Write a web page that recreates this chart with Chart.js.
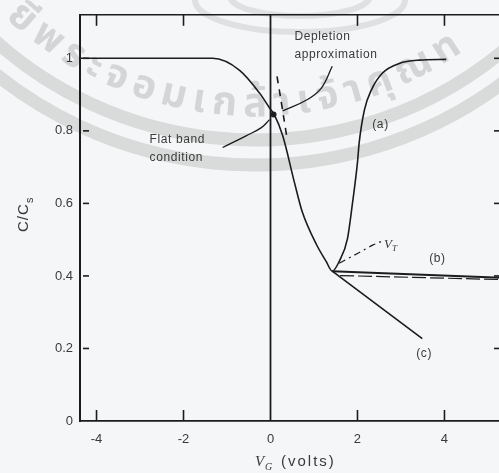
<!DOCTYPE html>
<html lang="en">
<head>
<meta charset="UTF-8">
<title>MOS C-V curve</title>
<script src="https://cdn.jsdelivr.net/npm/chart.js"></script>
<style>
  html, body { margin: 0; padding: 0; overflow: hidden; background: #f5f6f7; }
  .chart-box { position: relative; width: 505px; height: 473px; }
</style>
</head>
<body>
<div class="chart-box"><canvas id="cvChart"></canvas></div>
<script>
// gate voltage V_G (volts) and normalised capacitance C/Cs
const curveA_V = [-4.38, -3.0, -2.0, -1.33, -0.71, -0.25, -0.02, 0.09, 0.28, 0.55, 0.73, 1.06, 1.28, 1.42, 1.58, 1.77, 1.88, 2.0, 2.04, 2.16, 2.32, 2.57, 2.96, 3.42, 4.04];
const curveA_C = [1.0, 1.0, 1.0, 1.0, 0.967, 0.904, 0.863, 0.844, 0.787, 0.658, 0.577, 0.486, 0.44, 0.413, 0.44, 0.503, 0.596, 0.713, 0.768, 0.858, 0.913, 0.959, 0.986, 0.995, 0.997];

const curveB_V = [1.42, 5.30];
const curveB_C = [0.413, 0.395];
const curveB2_V = [1.60, 5.30];
const curveB2_C = [0.401, 0.390];

const curveC_V = [1.42, 3.49];
const curveC_C = [0.413, 0.227];

const depletion_V = [0.15, 0.22, 0.30, 0.38];
const depletion_C = [0.95, 0.90, 0.84, 0.78];

const vt_V = [1.58, 2.0, 2.35, 2.55];
const vt_C = [0.435, 0.462, 0.485, 0.495];

const flatBand_V = [0.07];
const flatBand_C = [0.845];

const zeroLine_V = [0, 0];
const zeroLine_C = [0, 1.12];

// leader lines for the two notes
const leaderFB_V = [-1.10, -0.55, -0.21, -0.02];
const leaderFB_C = [0.754, 0.787, 0.809, 0.831];
const leaderDep_V = [0.28, 0.83, 1.17, 1.42];
const leaderDep_C = [0.855, 0.885, 0.918, 0.978];

const xTicks = [-4, -2, 0, 2, 4];
const yTicks = [0, 0.2, 0.4, 0.6, 0.8, 1.0];

const notes = [
  { text: 'Depletion', v: 0.55, c: 1.06 },
  { text: 'approximation', v: 0.55, c: 1.01 },
  { text: 'Flat band', v: -2.78, c: 0.776 },
  { text: 'condition', v: -2.78, c: 0.727 },
  { text: '(a)', v: 2.34, c: 0.817 },
  { text: '(b)', v: 3.65, c: 0.448 },
  { text: '(c)', v: 3.35, c: 0.186 }
];

const ink = '#1c1c1c';
const textInk = '#3a3a3a';

function pts(vs, cs) {
  return vs.map((v, i) => ({ x: v, y: cs[i] }));
}

function line(ctx, x1, y1, x2, y2) {
  ctx.beginPath();
  ctx.moveTo(x1, y1);
  ctx.lineTo(x2, y2);
  ctx.stroke();
}

// faint seal lettering behind the plot
function drawWatermark(ctx) {
  ctx.save();
  const cx = 255, cy = -250;
  ctx.strokeStyle = 'rgba(120,120,120,0.22)';
  ctx.lineWidth = 13;
  [390, 415].forEach(r => {
    ctx.beginPath();
    ctx.arc(cx, cy, r, 0.1, Math.PI - 0.1);
    ctx.stroke();
  });
  ctx.strokeStyle = 'rgba(120,120,120,0.17)';
  ctx.lineWidth = 6;
  ctx.beginPath();
  ctx.ellipse(300, 0, 105, 32, 0, 0, Math.PI);
  ctx.stroke();
  ctx.beginPath();
  ctx.ellipse(300, -4, 70, 20, 0, 0, Math.PI);
  ctx.stroke();

  const clusters = ['ยี', 'พ', 'ร', 'ะ', 'จ', 'อ', 'ม', 'เ', 'ก', 'ล้', 'า', 'เ', 'จ้', 'า', 'คุ', 'ณ', 'ท'];
  ctx.font = 'bold 40px "Noto Sans Thai", "Noto Sans", "DejaVu Sans", sans-serif';
  ctx.fillStyle = 'rgba(120,120,120,0.26)';
  ctx.textAlign = 'center';
  ctx.textBaseline = 'alphabetic';
  const r = 366;
  let ang = 2.33;
  clusters.forEach(ch => {
    const w = ctx.measureText(ch).width + 7;
    const mid = ang - w / (2 * r);
    ctx.save();
    ctx.translate(cx + r * Math.cos(mid), cy + r * Math.sin(mid));
    ctx.rotate(mid - Math.PI / 2);
    ctx.fillText(ch, 0, 0);
    ctx.restore();
    ang -= w / r;
  });
  ctx.restore();
}

const decorations = {
  id: 'decorations',
  beforeDraw(chart) {
    const ctx = chart.ctx;
    ctx.save();
    ctx.fillStyle = '#f5f6f7';
    ctx.fillRect(0, 0, chart.width, chart.height);
    ctx.restore();
    drawWatermark(ctx);
  },
  afterDatasetsDraw(chart) {
    const ctx = chart.ctx;
    const { left, right, top, bottom } = chart.chartArea;
    const x = chart.scales.x, y = chart.scales.y;
    ctx.save();
    ctx.strokeStyle = ink;
    ctx.lineWidth = 1.6;
    // top and right frame
    line(ctx, left, top, right, top);
    line(ctx, right, top, right, bottom);
    // inward tick marks
    yTicks.forEach(v => {
      if (v === 0) return;
      const py = y.getPixelForValue(v);
      line(ctx, left + 3, py, left + 9, py);
      line(ctx, right - 7, py, right, py);
    });
    xTicks.forEach(v => {
      if (v === 0) return;
      const px = x.getPixelForValue(v);
      line(ctx, px, bottom, px, bottom - 11);
      line(ctx, px, top, px, top + 11);
    });

    // notes
    ctx.fillStyle = textInk;
    ctx.font = '12px "Liberation Sans", Arial, sans-serif';
    ctx.letterSpacing = '0.6px';
    ctx.textBaseline = 'middle';
    ctx.textAlign = 'left';
    notes.forEach(n => {
      ctx.fillText(n.text, x.getPixelForValue(n.v), y.getPixelForValue(n.c));
    });

    // V_T label
    const vx = x.getPixelForValue(2.61), vy = y.getPixelForValue(0.486);
    ctx.font = 'italic 13px "Liberation Serif", serif';
    ctx.fillText('V', vx, vy);
    ctx.font = 'italic 9px "Liberation Serif", serif';
    ctx.fillText('T', vx + 8, vy + 4);

    // x axis title
    ctx.letterSpacing = '0px';
    ctx.font = 'italic 15px "Liberation Serif", serif';
    ctx.fillText('V', 255, 462);
    ctx.font = 'italic 10px "Liberation Serif", serif';
    ctx.fillText('G', 265, 467);
    ctx.letterSpacing = '2px';
    ctx.font = '15px "Liberation Sans", Arial, sans-serif';
    ctx.fillText('(volts)', 281, 462);

    // y axis title, rotated
    ctx.save();
    ctx.translate(24, 215);
    ctx.rotate(-Math.PI / 2);
    ctx.letterSpacing = '1px';
    ctx.textAlign = 'left';
    ctx.font = '15px "Liberation Sans", Arial, sans-serif';
    ctx.fillText('C/C', -17, 0);
    ctx.font = '11px "Liberation Sans", Arial, sans-serif';
    ctx.fillText('s', 12, 6);
    ctx.restore();
    ctx.restore();
  }
};

const solid = (vs, cs, extra) => Object.assign({
  data: pts(vs, cs),
  borderColor: ink,
  borderWidth: 1.6,
  pointRadius: 0,
  fill: false
}, extra || {});

new Chart(document.getElementById('cvChart').getContext('2d'), {
  type: 'line',
  data: {
    datasets: [
      solid(zeroLine_V, zeroLine_C, { borderWidth: 1.8 }),
      solid(curveA_V, curveA_C, { cubicInterpolationMode: 'monotone' }),
      solid(curveB_V, curveB_C, { borderWidth: 2 }),
      solid(curveB2_V, curveB2_C, { borderDash: [14, 4], borderWidth: 1.2 }),
      solid(curveC_V, curveC_C),
      solid(depletion_V, depletion_C, { borderDash: [7, 6], tension: 0.3 }),
      solid(vt_V, vt_C, { borderDash: [7, 4, 2, 4], borderWidth: 1.2, tension: 0.3 }),
      solid(leaderFB_V, leaderFB_C, { tension: 0.4, borderWidth: 1.3 }),
      solid(leaderDep_V, leaderDep_C, { tension: 0.4, borderWidth: 1.3 }),
      solid(flatBand_V, flatBand_C, { showLine: false, pointRadius: 3, pointBackgroundColor: '#222', pointBorderWidth: 0 })
    ]
  },
  options: {
    responsive: true,
    maintainAspectRatio: false,
    animation: false,
    layout: { padding: { top: 11, right: 3, left: 0, bottom: 0 } },
    plugins: { legend: { display: false }, tooltip: { enabled: false } },
    scales: {
      x: {
        type: 'linear',
        min: -4.38,
        max: 5.30,
        afterBuildTicks: s => { s.ticks = xTicks.map(v => ({ value: v })); },
        afterFit: s => { s.height = 52; },
        grid: { display: false, drawTicks: false },
        border: { display: true, color: ink, width: 1.8 },
        ticks: {
          color: textInk,
          padding: 11,
          font: { family: '"Liberation Sans", Arial, sans-serif', size: 13 },
          callback: v => String(v)
        }
      },
      y: {
        type: 'linear',
        min: 0,
        max: 1.12,
        afterBuildTicks: s => { s.ticks = yTicks.map(v => ({ value: v })); },
        afterFit: s => { s.width = 80; },
        grid: { display: false, drawTicks: false },
        border: { display: true, color: ink, width: 2 },
        ticks: {
          color: textInk,
          padding: 7,
          font: { family: '"Liberation Sans", Arial, sans-serif', size: 13 },
          callback: v => (v === 0 || v === 1) ? String(v) : v.toFixed(1)
        }
      }
    }
  },
  plugins: [decorations]
});
</script>
</body>
</html>
